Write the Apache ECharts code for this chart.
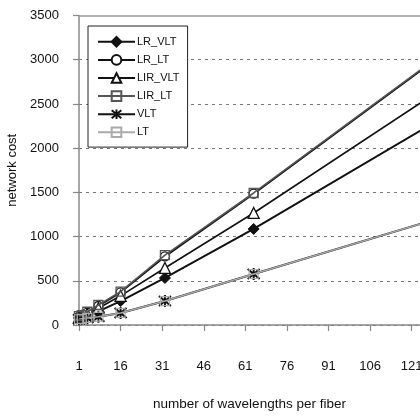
<!DOCTYPE html>
<html>
<head>
<meta charset="utf-8">
<script src="https://cdn.jsdelivr.net/npm/echarts@6/dist/echarts.min.js"></script>
<style>
  html, body { margin: 0; padding: 0; background: #fff; }
  #chart { width: 420px; height: 417px; }
</style>
</head>
<body>
<div id="chart"></div>
<script>
// Wavelengths per fiber at which each configuration was evaluated
const wavelengths = [1, 2, 4, 8, 16, 32, 64, 128];

// Network cost for each configuration
const lrVlt  = [80, 90, 110, 155, 270, 532, 1086, 2270];
const lrLt   = [95, 105, 140, 215, 370, 775, 1485, 2965];
const lirVlt = [90, 100, 125, 190, 330, 645, 1267, 2590];
const lirLt  = [100, 110, 150, 226, 377, 790, 1493, 2972];
const vlt    = [65, 70, 80, 94, 136, 271, 577, 1180];
const lt     = [65, 70, 80, 94, 136, 271, 577, 1180];

// Axis ticks
const xTicks = [1, 16, 31, 46, 61, 76, 91, 106, 121];
const yTicks = [0, 500, 1000, 1500, 2000, 2500, 3000, 3500];

const seriesNames = ['LR_VLT', 'LR_LT', 'LIR_VLT', 'LIR_LT', 'VLT', 'LT'];

const FONT = '"Liberation Sans", Arial, sans-serif';
const star = 'path://M0,0 L10,10 M10,0 L0,10 M5,-1 L5,11';

function pairs(values) {
  return wavelengths.map((w, i) => [w, values[i]]);
}

function makeSeries(name, values, opts) {
  return {
    name: name,
    type: 'line',
    data: pairs(values),
    symbol: opts.symbol,
    symbolSize: opts.size,
    z: opts.z,
    clip: true,
    lineStyle: { color: opts.color, width: opts.width },
    itemStyle: {
      color: opts.fill,
      borderColor: opts.color,
      borderWidth: opts.border
    },
    emphasis: { disabled: true },
    animation: false
  };
}

const chart = echarts.init(document.getElementById('chart'), null, { renderer: 'canvas' });

chart.setOption({
  backgroundColor: '#fff',
  animation: false,
  textStyle: { fontFamily: FONT },
  grid: {
    left: 79, right: 0, top: 15.5, bottom: 92,
    outerBoundsMode: 'none',
    containLabel: false
  },
  legend: {
    data: seriesNames,
    orient: 'vertical',
    left: 88, top: 26,
    padding: [10, 8, 9, 9],
    itemWidth: 37, itemHeight: 12, itemGap: 6.5,
    backgroundColor: '#fff',
    borderColor: '#222', borderWidth: 1,
    textStyle: { fontFamily: FONT, fontSize: 11, color: '#111', padding: [0, 0, 0, -3] }
  },
  xAxis: [{
    type: 'value',
    min: 1, max: 124,
    name: 'number of wavelengths per fiber',
    nameLocation: 'middle',
    nameGap: 72,
    nameTextStyle: { fontFamily: FONT, fontSize: 13.5, color: '#111' },
    axisLine: { show: true, lineStyle: { color: '#888', width: 1.5 } },
    axisTick: { show: true, length: 6, lineStyle: { color: '#888', width: 1.2 }, customValues: xTicks },
    axisLabel: { customValues: xTicks, margin: 35, fontSize: 13, color: '#111', fontFamily: FONT },
    splitLine: { show: false }
  }, {
    // plot-area top edge
    type: 'value',
    position: 'top',
    min: 1, max: 124,
    axisLine: { show: true, lineStyle: { color: '#9a9a9a', width: 1.5 } },
    axisTick: { show: false },
    axisLabel: { show: false },
    splitLine: { show: false }
  }],
  yAxis: {
    type: 'value',
    min: yTicks[0], max: yTicks[yTicks.length - 1], interval: 500,
    name: 'network cost',
    nameLocation: 'middle',
    nameGap: 58,
    nameTextStyle: { fontFamily: FONT, fontSize: 13, color: '#111' },
    axisLine: { show: true, lineStyle: { color: '#888', width: 1.5 } },
    axisTick: { show: true, length: 6, lineStyle: { color: '#888', width: 1.2 } },
    axisLabel: { margin: 20, fontSize: 13, color: '#111', fontFamily: FONT, formatter: v => String(v) },
    splitLine: { show: true, showMaxLine: false, lineStyle: { color: '#777', type: [3, 4], width: 1 } }
  },
  series: [
    makeSeries('LR_VLT', lrVlt,  { symbol: 'diamond',  size: 11, color: '#111', fill: '#111', width: 2,   border: 1,   z: 2 }),
    makeSeries('LR_LT',  lrLt,   { symbol: 'circle',   size: 9,  color: '#111', fill: '#fff', width: 2,   border: 1.3, z: 2 }),
    makeSeries('LIR_VLT', lirVlt,{ symbol: 'triangle', size: 11, color: '#111', fill: '#fff', width: 1.6, border: 1.3, z: 2 }),
    makeSeries('LIR_LT', lirLt,  { symbol: 'rect',     size: 9,  color: '#555', fill: 'rgba(255,255,255,0)', width: 1.6, border: 1.3, z: 3 }),
    makeSeries('VLT',    vlt,    { symbol: star,       size: 12, color: '#111', fill: '#111', width: 2,   border: 2,   z: 2 }),
    makeSeries('LT',     lt,     { symbol: 'rect',     size: 9,  color: '#aaa', fill: 'rgba(255,255,255,0)', width: 1.5, border: 1.2, z: 3 })
  ]
});
</script>
</body>
</html>
